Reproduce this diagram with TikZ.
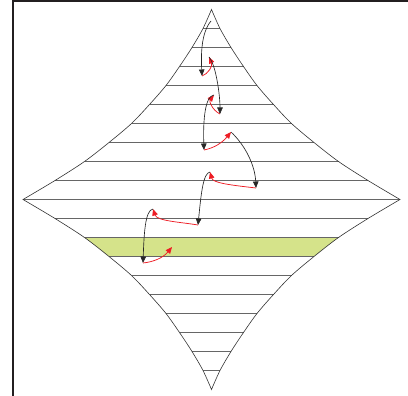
\documentclass[tikz,border=0pt]{standalone}
\usetikzlibrary{arrows.meta}
\definecolor{bandgreen}{RGB}{213,227,138}
\definecolor{arrred}{RGB}{237,28,36}
\definecolor{framec}{RGB}{35,31,32}
\begin{document}
\begin{tikzpicture}[x=1pt,y=-1pt,
  blackarr/.style={draw=black!85, line width=0.65pt, -{Triangle[length=6.5pt,width=5.5pt]}},
  redarr/.style={draw=arrred, line width=0.75pt, -{Triangle[length=6.5pt,width=5.5pt]}},
  rung/.style={draw=black!60, line width=1pt},
  outline/.style={draw=black!80, line width=0.6pt},
  framestyle/.style={draw=framec, line width=2pt}]
\useasboundingbox (0,0) rectangle (408,396);
% green band clipped to the diamond
\begin{scope}
\clip plot[smooth] coordinates {(211.5,9.5) (203,28.5) (192,47.5) (179.5,66.5) (166,85.5) (149.5,104.5) (131.5,123.5) (109,142.5) (84.5,161.5) (55,180.5) (23,199.5)}
 -- plot[smooth] coordinates {(23,199.5) (55,218.5) (84.5,237.5) (109,256.5) (131.5,275.5) (149.5,294.5) (166,313.5) (179.5,332.5) (192,351.5) (203,370.5) (211.5,389.5)}
 -- plot[smooth] coordinates {(211.5,389.5) (220,370.5) (231,351.5) (243.5,332.5) (257,313.5) (273.5,294.5) (291.5,275.5) (314,256.5) (338.5,237.5) (368,218.5) (400,199.5)}
 -- plot[smooth] coordinates {(400,199.5) (368,180.5) (338.5,161.5) (314,142.5) (291.5,123.5) (273.5,104.5) (257,85.5) (243.5,66.5) (231,47.5) (220,28.5) (211.5,9.5)} -- cycle;
\fill[bandgreen] (0,237.5) rectangle (408,256.5);
\end{scope}
% rungs
\foreach \t/\w in {1/8.5,2/19.5,3/32,4/45.5,5/62,6/80,7/102.5,8/127,9/156.5}{
  \draw[rung] (211.5-\w,9.5+19*\t) -- (211.5+\w,9.5+19*\t);
  \draw[rung] (211.5-\w,389.5-19*\t) -- (211.5+\w,389.5-19*\t);
}
\draw[rung] (23,199.5) -- (400,199.5);
% outline
\draw[outline] plot[smooth] coordinates {(211.5,9.5) (203,28.5) (192,47.5) (179.5,66.5) (166,85.5) (149.5,104.5) (131.5,123.5) (109,142.5) (84.5,161.5) (55,180.5) (23,199.5)}
 -- plot[smooth] coordinates {(23,199.5) (55,218.5) (84.5,237.5) (109,256.5) (131.5,275.5) (149.5,294.5) (166,313.5) (179.5,332.5) (192,351.5) (203,370.5) (211.5,389.5)}
 -- plot[smooth] coordinates {(211.5,389.5) (220,370.5) (231,351.5) (243.5,332.5) (257,313.5) (273.5,294.5) (291.5,275.5) (314,256.5) (338.5,237.5) (368,218.5) (400,199.5)}
 -- plot[smooth] coordinates {(400,199.5) (368,180.5) (338.5,161.5) (314,142.5) (291.5,123.5) (273.5,104.5) (257,85.5) (243.5,66.5) (231,47.5) (220,28.5) (211.5,9.5)} -- cycle;
% frame
\draw[framestyle] (12.5,396) -- (12.5,1.5) -- (408,1.5);
% arrow chain
\coordinate (a0) at (211,21);
\coordinate (a1) at (202,76);
\coordinate (a2) at (209,57);
\coordinate (a3) at (220,114);
\coordinate (a4) at (214,95);
\coordinate (a5) at (204,150);
\coordinate (a6) at (231,132);
\coordinate (a7) at (256,188);
\coordinate (a8) at (210,172);
\coordinate (a9) at (198,225);
\coordinate (a10) at (153,209);
\coordinate (a11) at (143,263);
\coordinate (a12) at (172,247);
\draw[blackarr] (a0) .. controls (201,33) and (201,55) .. (a1);
\draw[redarr] (a1) .. controls (208,74) and (213,66) .. (a2);
\draw[blackarr] (a2) .. controls (216,65) and (220,95) .. (a3);
\draw[redarr] (a3) .. controls (212,110) and (209,101) .. (a4);
\draw[blackarr] (a4) .. controls (205,96) and (203,120) .. (a5);
\draw[redarr] (a5) .. controls (214,148) and (222,143) .. (a6);
\draw[blackarr] (a6) .. controls (245,145) and (255,165) .. (a7);
\draw[redarr] (a7) .. controls (230,185) and (213,183) .. (a8);
\draw[blackarr] (a8) .. controls (203,173) and (201,195) .. (a9);
\draw[redarr] (a9) .. controls (180,222) and (157,221) .. (a10);
\draw[blackarr] (a10) .. controls (145,210) and (144,235) .. (a11);
\draw[redarr] (a11) .. controls (153,262) and (163,258) .. (a12);
\end{tikzpicture}
\end{document}
